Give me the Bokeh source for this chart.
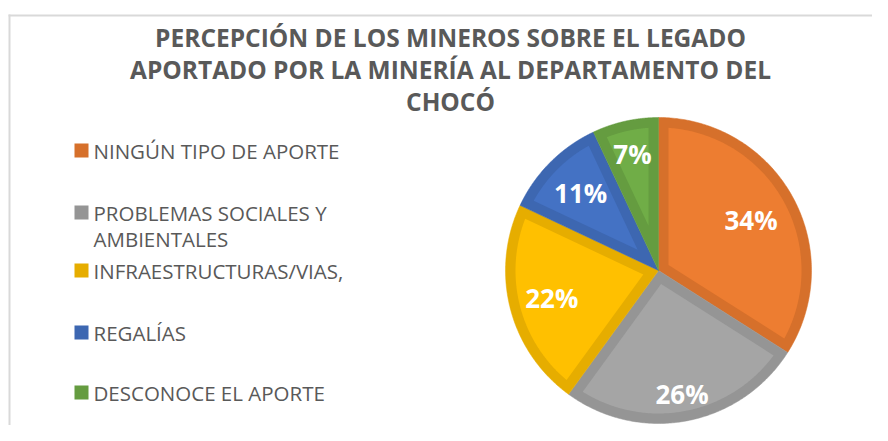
import numpy as np
from bokeh.plotting import figure
from bokeh.models import Range1d
from bokeh.core.properties import value
from bokeh.embed import file_html
from bokeh.resources import INLINE

# ---- data ----
title_lines = ["PERCEPCIÓN DE LOS MINEROS SOBRE EL LEGADO",
               "APORTADO POR LA MINERÍA AL DEPARTAMENTO DEL",
               "CHOCÓ"]
categories = ["NINGÚN TIPO DE APORTE",
              "PROBLEMAS SOCIALES Y\nAMBIENTALES",
              "INFRAESTRUCTURAS/VIAS,",
              "REGALÍAS",
              "DESCONOCE EL APORTE"]
shares = [34, 26, 22, 11, 7]
pct_labels = ["34%", "26%", "22%", "11%", "7%"]

# ---- style / layout ----
fill_colors = ["#ED7D31", "#A5A5A5", "#FFC000", "#4472C4", "#70AD47"]
edge_colors = ["#D6702B", "#959595", "#E6AD00", "#3D67B1", "#659C40"]
label_rfrac = [0.69, 0.82, 0.72, 0.72, 0.78]
text_gray = "#595959"

W, H = 872, 425
cx, cy, R, band = 658.0, 270.0, 153.0, 10.0
legend_rows = [150, 212, 270, 332, 392]
legend_line_step = 26
title_y = [37, 69, 101]

p = figure(width=W, height=H, x_range=Range1d(0, W), y_range=Range1d(H, 0),
           output_backend="svg", toolbar_location=None, min_border=0)
p.axis.visible = False
p.grid.visible = False
p.outline_line_color = None
p.background_fill_color = "white"
p.border_fill_color = "white"

# chart-area frame (top and left edges visible)
p.segment(x0=[9, 8], y0=[14, 15], x1=[9, W], y1=[H, 15],
          line_color="#D9D9D9", line_width=2)

# ---- pie ----
total = float(sum(shares))
outer_xs, outer_ys, inner_xs, inner_ys = [], [], [], []
lab_x, lab_y = [], []
cum = 0.0
for i, s in enumerate(shares):
    a0 = np.pi / 2 - 2 * np.pi * cum / total
    a1 = a0 - 2 * np.pi * s / total
    cum += s
    arc = np.linspace(a0, a1, 160)
    outer_xs.append([cx] + list(cx + R * np.cos(arc)))
    outer_ys.append([cy] + list(cy - R * np.sin(arc)))
    theta = a0 - a1
    r_in = R - band
    dlt = np.arcsin(band / r_in)
    mid = (a0 + a1) / 2
    apex = band / np.sin(theta / 2)
    arc2 = np.linspace(a0 - dlt, a1 + dlt, 160)
    inner_xs.append([cx + apex * np.cos(mid)] + list(cx + r_in * np.cos(arc2)))
    inner_ys.append([cy - apex * np.sin(mid)] + list(cy - r_in * np.sin(arc2)))
    lr = label_rfrac[i] * R
    lab_x.append(cx + lr * np.cos(mid))
    lab_y.append(cy - lr * np.sin(mid))

p.patches(outer_xs, outer_ys, fill_color=edge_colors, line_color=edge_colors, line_width=0.5)
p.patches(inner_xs, inner_ys, fill_color=fill_colors, line_color=None)

p.text(x=lab_x, y=lab_y, text=pct_labels, text_color="white",
       text_font=value("Open Sans"), text_font_style="bold", text_font_size="26px",
       text_align="center", text_baseline="middle")

# ---- title ----
p.text(x=[450] * len(title_lines), y=title_y, text=title_lines, text_color=text_gray,
       text_font=value("Open Sans"), text_font_style="bold", text_font_size="24.5px",
       text_align="center", text_baseline="middle")

# ---- legend ----
p.rect(x=[81] * len(categories), y=legend_rows, width=14, height=14,
       fill_color=edge_colors, line_color=None)
lx, ly, lt = [], [], []
for row, cat in zip(legend_rows, categories):
    for k, line in enumerate(cat.split("\n")):
        lx.append(93)
        ly.append(row + k * legend_line_step)
        lt.append(line)
p.text(x=lx, y=ly, text=lt, text_color=text_gray,
       text_font=value("Open Sans"), text_font_size="20.5px",
       text_align="left", text_baseline="middle")

open("out.html", "w").write(file_html(p, INLINE))
